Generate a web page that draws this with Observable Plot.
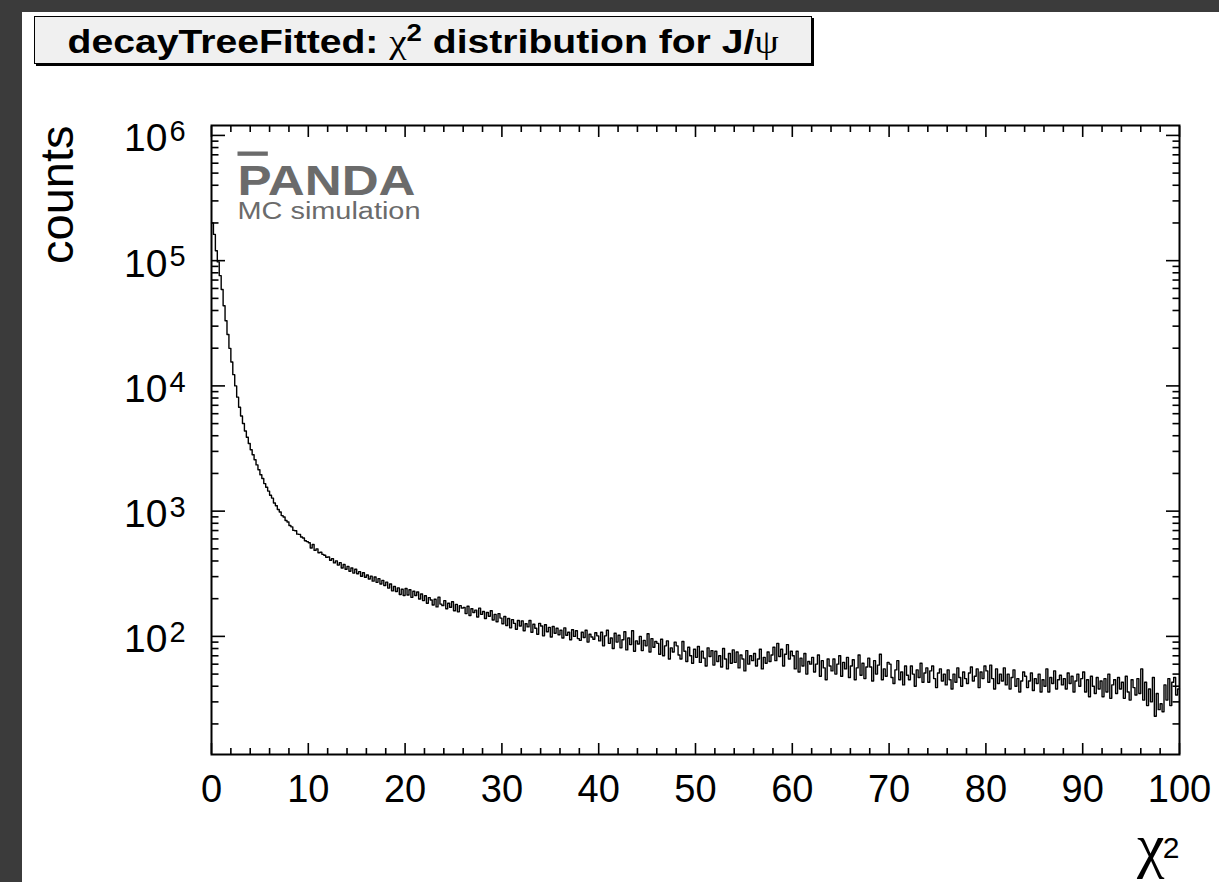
<!DOCTYPE html>
<html>
<head>
<meta charset="utf-8">
<script src="https://cdn.jsdelivr.net/npm/d3@7"></script>
<script src="https://cdn.jsdelivr.net/npm/@observablehq/plot@0.6"></script>
<style>
  html, body { margin: 0; padding: 0; background: #3b3b3b; width: 1219px; height: 882px; overflow: hidden; }
  #panel { position: absolute; left: 22px; top: 12px; width: 1197px; height: 870px; background: #ffffff; }
  #chart { position: absolute; left: 0; top: 0; }
  #title { position: absolute; left: 12px; top: 4px; width: 776px; height: 46px; background: #f0f0f0;
           border: 1px solid #000; box-shadow: 2px 2px 0 #000; display: flex; align-items: center; justify-content: center;
           font-family: "Liberation Sans", Arial, Helvetica, sans-serif; font-weight: bold; font-size: 34px; color: #000; }
  #title .t { display: inline-block; transform: scaleX(1.15); white-space: nowrap; position: relative; top: 1px; }
  #title .g { font-family: "Liberation Serif", "DejaVu Serif", serif; font-weight: normal; }
  #title sup { font-size: 24px; vertical-align: 12px; line-height: 0; }
</style>
</head>
<body>
<div id="panel">
  <div id="chart"></div>
  <div id="title"><span class="t">decayTreeFitted: <span class="g">χ</span><sup>2</sup> distribution for J/<span class="g">ψ</span></span></div>
</div>
<script>
// ---- data ----
const binLow = 0;
const binWidth = 0.2;
const counts = [
  200000, 162000, 120000, 97700, 75900, 58900, 43600, 33100, 25700, 19950,
  15500, 12300, 10000, 8130, 6760, 5750, 5010, 4370, 3890, 3470,
  3090, 2820, 2570, 2340, 2140, 1950, 1820, 1660, 1550, 1445,
  1338, 1271, 1163, 1104, 1032, 985, 921, 899, 842, 820,
  768, 749, 702, 697, 655, 652, 622, 611, 580, 571,
  560, 508, 541, 486, 500, 466, 470, 452, 445, 428,
  430, 405, 418, 386, 401, 371, 388, 352, 375, 344,
  362, 331, 352, 320, 344, 316, 329, 302, 322, 297,
  309, 287, 303, 276, 298, 270, 289, 262, 280, 255,
  271, 243, 262, 231, 250, 228, 244, 216, 238, 212,
  241, 214, 236, 205, 229, 212, 226, 199, 218, 193,
  211, 184, 204, 195, 178, 198, 172, 206, 181, 176,
  193, 166, 184, 171, 189, 160, 180, 157, 176, 168,
  170, 152, 174, 147, 166, 155, 162, 143, 168, 150,
  158, 139, 155, 145, 160, 135, 150, 131, 152, 140,
  126, 144, 122, 139, 117, 136, 127, 114, 134, 121,
  133, 111, 126, 119, 134, 108, 125, 116, 104, 127,
  121, 101, 124, 109, 118, 99, 120, 106, 116, 103,
  112, 97, 117, 102, 108, 94, 113, 100, 111, 96,
  93, 108, 98, 112, 90, 104, 99, 95, 107, 101,
  92, 108, 84, 101, 112, 88, 97, 80, 106, 90,
  102, 81, 94, 109, 78, 97, 86, 111, 76, 92,
  87, 100, 77, 93, 84, 105, 75, 96, 82, 91,
  88, 72, 95, 70, 84, 92, 66, 81, 75, 90,
  84, 71, 66, 91, 76, 63, 82, 70, 61, 79,
  68, 83, 62, 76, 67, 58, 81, 69, 77, 59,
  76, 63, 70, 57, 80, 66, 55, 73, 61, 78,
  62, 75, 56, 71, 66, 53, 77, 60, 70, 64,
  73, 58, 66, 79, 55, 68, 61, 75, 63, 71,
  82, 64, 88, 69, 79, 58, 72, 86, 66, 76,
  70, 55, 76, 52, 67, 58, 73, 50, 63, 60,
  68, 52, 60, 71, 48, 64, 56, 45, 66, 58,
  53, 66, 50, 60, 70, 48, 62, 55, 68, 47,
  58, 65, 45, 56, 71, 49, 61, 46, 57, 67,
  57, 44, 64, 50, 59, 72, 45, 55, 48, 62,
  60, 47, 42, 54, 64, 45, 52, 41, 58, 49,
  45, 58, 50, 40, 54, 47, 61, 43, 51, 56,
  43, 53, 58, 46, 39, 51, 55, 44, 50, 41,
  54, 45, 38, 50, 43, 56, 47, 40, 52, 46,
  42, 51, 57, 44, 48, 55, 39, 52, 46, 58,
  53, 43, 59, 46, 38, 55, 42, 50, 44, 56,
  41, 50, 38, 47, 54, 40, 46, 36, 44, 52,
  48, 39, 44, 51, 37, 46, 42, 50, 36, 45,
  40, 55, 36, 47, 42, 53, 38, 45, 49, 41,
  46, 38, 51, 42, 48, 36, 44, 50, 40, 46,
  52, 36, 45, 33, 48, 40, 35, 47, 38, 44,
  33, 46, 36, 50, 32, 41, 45, 35, 47, 38,
  43, 32, 48, 36, 31, 45, 39, 34, 46, 35,
  55, 31, 43, 28, 38, 30, 47, 23, 35, 26,
  29, 25, 41, 31, 46, 28, 43, 47, 34, 38
];
const xMajorTicks = [0, 10, 20, 30, 40, 50, 60, 70, 80, 90, 100];
const xTickLabels = ["0", "10", "20", "30", "40", "50", "60", "70", "80", "90", "100"];
const xMinorTicks = [2,4,6,8,12,14,16,18,22,24,26,28,32,34,36,38,42,44,46,48,52,54,56,58,62,64,66,68,72,74,76,78,82,84,86,88,92,94,96,98];
const yMajorTicks = [1e2, 1e3, 1e4, 1e5, 1e6];
const yTickExponents = ["2", "3", "4", "5", "6"];
const yMinorMantissas = [2, 3, 4, 5, 6, 7, 8, 9];
const yMinorDecades = [10, 100, 1000, 10000, 100000];
const yDomain = [11.4, 1.2e6];
const xDomain = [0, 100];
const yAxisTitle = "counts";
const xAxisTitle = "χ";
const xAxisTitleSup = "2";
const logoMain = "PANDA";
const logoSub = "MC simulation";

// ---- build ----
const yMinorTicks = yMinorDecades.flatMap(d => yMinorMantissas.map(m => m * d));
const steps = counts.map((c, i) => ({x: binLow + i * binWidth, y: c}));
steps.push({x: binLow + counts.length * binWidth, y: counts[counts.length - 1]});

const sans = '"Liberation Sans", Arial, Helvetica, sans-serif';
const serif = '"Liberation Serif", "DejaVu Serif", serif';
const blank = () => "";

const chart = Plot.plot({
  width: 1197,
  height: 870,
  marginLeft: 189,
  marginRight: 40,
  marginTop: 113,
  marginBottom: 128,
  style: {fontFamily: sans, background: "transparent", color: "#000", overflow: "visible"},
  x: {domain: xDomain, label: null},
  y: {type: "log", domain: yDomain, label: null},
  marks: [
    Plot.line(steps, {x: "x", y: "y", curve: "step-after", stroke: "#000", strokeWidth: 1.4}),
    // ticks (inward)
    Plot.axisX({ticks: xMajorTicks, anchor: "bottom", tickSize: -11, tickFormat: blank, label: null, strokeWidth: 1.6}),
    Plot.axisX({ticks: xMinorTicks, anchor: "bottom", tickSize: -6, tickFormat: blank, label: null, strokeWidth: 1.6}),
    Plot.axisX({ticks: xMajorTicks, anchor: "top", tickSize: -11, tickFormat: blank, label: null, strokeWidth: 1.6}),
    Plot.axisX({ticks: xMinorTicks, anchor: "top", tickSize: -6, tickFormat: blank, label: null, strokeWidth: 1.6}),
    Plot.axisY({ticks: yMajorTicks, anchor: "left", tickSize: -14, tickFormat: blank, label: null, strokeWidth: 1.6}),
    Plot.axisY({ticks: yMinorTicks, anchor: "left", tickSize: -7.5, tickFormat: blank, label: null, strokeWidth: 1.6}),
    Plot.axisY({ticks: yMajorTicks, anchor: "right", tickSize: -14, tickFormat: blank, label: null, strokeWidth: 1.6}),
    Plot.axisY({ticks: yMinorTicks, anchor: "right", tickSize: -7.5, tickFormat: blank, label: null, strokeWidth: 1.6}),
    // x tick labels
    Plot.axisX({ticks: xMajorTicks, anchor: "bottom", tickSize: 0, tickPadding: 21, fontSize: 38, label: null,
                tickFormat: d => xTickLabels[xMajorTicks.indexOf(d)]}),
    // y tick labels 10^n
    Plot.text(yMajorTicks, {y: d => d, text: () => "10", frameAnchor: "left", textAnchor: "end", lineAnchor: "middle",
                            dx: -44, dy: 3.5, fontSize: 39}),
    Plot.text(yMajorTicks, {y: d => d, text: (d, i) => yTickExponents[i], frameAnchor: "left", textAnchor: "start", lineAnchor: "middle",
                            dx: -42, dy: -3.5, fontSize: 29}),
    // axis titles
    Plot.text([yAxisTitle], {text: d => d, frameAnchor: "top-left", rotate: -90, textAnchor: "end", lineAnchor: "bottom",
                             dx: -139, dy: 0, fontSize: 47}),
    Plot.text([xAxisTitle], {text: d => d, frameAnchor: "bottom-right", textAnchor: "end", lineAnchor: "bottom",
                             dx: -15, dy: 111, fontSize: 62, fontFamily: serif}),
    Plot.text([xAxisTitleSup], {text: d => d, frameAnchor: "bottom-right", textAnchor: "end", lineAnchor: "bottom",
                                dx: 0, dy: 103, fontSize: 30}),
    // logo
    Plot.text([logoMain], {text: d => d, frameAnchor: "top-left", textAnchor: "start", lineAnchor: "bottom",
                           dx: 26, dy: 69, fontSize: 43, fontWeight: "bold", fill: "#6b6b6b"}),
    Plot.text([logoSub], {text: d => d, frameAnchor: "top-left", textAnchor: "start", lineAnchor: "bottom",
                          dx: 26, dy: 93, fontSize: 23, fill: "#6b6b6b"}),
    Plot.frame({stroke: "#000", strokeWidth: 2})
  ]
});

// logo overline on the P and width matching
d3.select(chart).selectAll("text").each(function() {
  if (this.textContent === logoMain) {
    const t = d3.select(this);
    t.text(null);
    t.append("tspan").attr("text-decoration", "overline").style("text-decoration", "overline").text(logoMain[0]);
    t.append("tspan").text(logoMain.slice(1));
    t.attr("textLength", 178).attr("lengthAdjust", "spacingAndGlyphs");
  } else if (this.textContent === logoSub) {
    d3.select(this).attr("textLength", 183).attr("lengthAdjust", "spacingAndGlyphs");
  }
});

document.getElementById("chart").appendChild(chart);
</script>
</body>
</html>
